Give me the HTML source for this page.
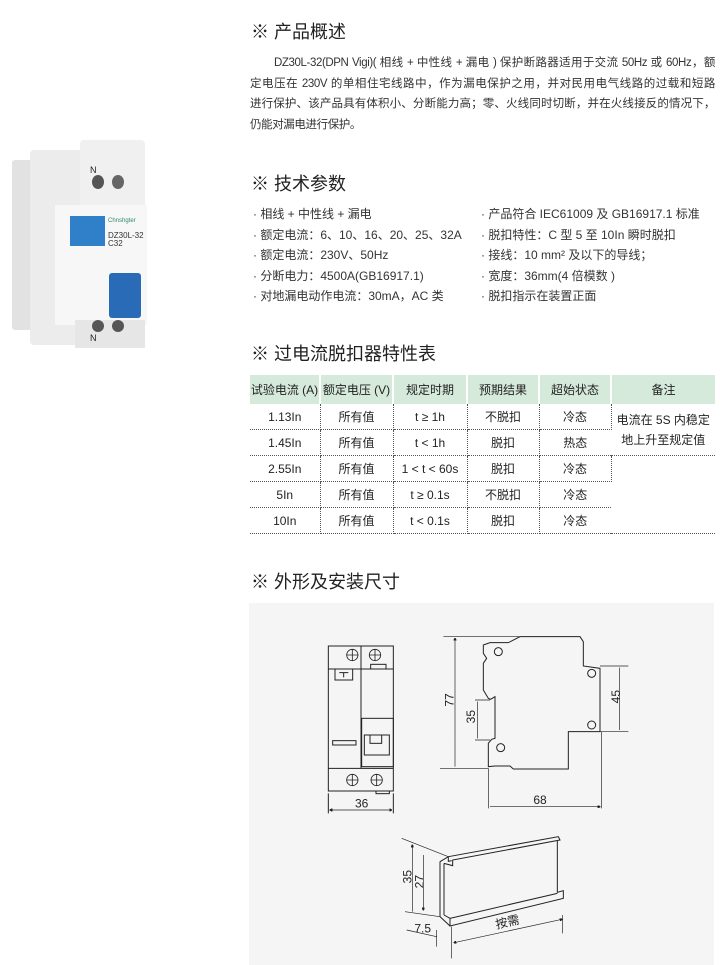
<!DOCTYPE html>
<html><head><meta charset="utf-8"><style>
body{margin:0;width:720px;height:965px;background:#fff;position:relative;overflow:hidden;font-family:"Liberation Sans","Noto Sans CJK SC",sans-serif;color:#333}
.a{position:absolute;white-space:nowrap}
.h{font-size:18px;color:#222;left:251px}
.l{font-size:11.5px;letter-spacing:-0.4px;left:250px;width:465px;text-align:justify;text-align-last:justify;line-height:16px}
.b{font-size:12px}
table{position:absolute;left:250px;top:375px;width:465px;border-collapse:collapse;font-size:12px;color:#222}
td,th{text-align:center;padding:0;border-bottom:1px dotted #555;border-right:1px dotted #555}
th{background:#d6eadb;font-weight:normal;height:29px;border:none;border-right:2px solid #fff}
td{height:25px}
td:last-child,th:last-child{border-right:none}
</style></head><body>
<div class="a h" style="top:18px">※ 产品概述</div>
<div class="a l" style="top:55px;left:274px;width:441px">DZ30L-32(DPN Vigi)( 相线 + 中性线 + 漏电 ) 保护断路器适用于交流 50Hz 或 60Hz，额</div>
<div class="a l" style="top:76px">定电压在 230V 的单相住宅线路中，作为漏电保护之用，并对民用电气线路的过载和短路</div>
<div class="a l" style="top:96px">进行保护、该产品具有体积小、分断能力高；零、火线同时切断，并在火线接反的情况下，</div>
<div class="a l" style="top:117px;text-align-last:left;width:auto">仍能对漏电进行保护。</div>
<div class="a h" style="top:170px">※ 技术参数</div>
<div class="a b" style="left:253px;top:204px;line-height:20.6px">· 相线 + 中性线 + 漏电<br>· 额定电流：6、10、16、20、25、32A<br>· 额定电流：230V、50Hz<br>· 分断电力：4500A(GB16917.1)<br>· 对地漏电动作电流：30mA，AC 类</div>
<div class="a b" style="left:481px;top:204px;line-height:20.6px">· 产品符合 IEC61009 及 GB16917.1 标准<br>· 脱扣特性：C 型 5 至 10In 瞬时脱扣<br>· 接线：10 mm² 及以下的导线；<br>· 宽度：36mm(4 倍模数 )<br>· 脱扣指示在装置正面</div>
<div class="a h" style="top:340px">※ 过电流脱扣器特性表</div>
<table>
<tr><th style="width:69px">试验电流 (A)</th><th style="width:71px">额定电压 (V)</th><th style="width:72px">规定时期</th><th style="width:70px">预期结果</th><th style="width:70px">超始状态</th><th>备注</th></tr>
<tr><td>1.13In</td><td>所有值</td><td>t ≥ 1h</td><td>不脱扣</td><td>冷态</td><td rowspan="2" style="line-height:20px">电流在 5S 内稳定<br>地上升至规定值</td></tr>
<tr><td>1.45In</td><td>所有值</td><td>t &lt; 1h</td><td>脱扣</td><td>热态</td></tr>
<tr><td>2.55In</td><td>所有值</td><td>1 &lt; t &lt; 60s</td><td>脱扣</td><td>冷态</td><td rowspan="3"></td></tr>
<tr><td>5In</td><td>所有值</td><td>t ≥ 0.1s</td><td>不脱扣</td><td>冷态</td></tr>
<tr><td>10In</td><td>所有值</td><td>t &lt; 0.1s</td><td>脱扣</td><td>冷态</td></tr>
</table>
<div class="a h" style="top:568px">※ 外形及安装尺寸</div>
<div class="a" style="left:249px;top:603px;width:465px;height:362px;background:#f4f5f4"></div>
<!-- product photo -->
<div class="a" style="left:12px;top:160px;width:30px;height:170px;background:#e2e2e2;border-radius:3px"></div>
<div class="a" style="left:30px;top:150px;width:60px;height:195px;background:#ececec;border-radius:4px"></div>
<div class="a" style="left:80px;top:140px;width:65px;height:70px;background:#f0f0f0;border-radius:4px"></div>
<div class="a" style="left:55px;top:205px;width:92px;height:120px;background:#f7f7f7"></div>
<div class="a" style="left:75px;top:320px;width:70px;height:28px;background:#e6e6e6"></div>
<div class="a" style="left:92px;top:175px;width:12px;height:14px;background:#555;border-radius:50%"></div>
<div class="a" style="left:112px;top:175px;width:12px;height:14px;background:#666;border-radius:50%"></div>
<div class="a" style="left:90px;top:165px;font-size:9px;color:#222">N</div>
<div class="a" style="left:70px;top:216px;width:35px;height:30px;background:#2f7fc9"></div>
<div class="a" style="left:109px;top:273px;width:32px;height:45px;background:#2a6bb8;border-radius:3px"></div>
<div class="a" style="left:108px;top:218px;font-size:6px;color:#2a8a6a">Chnshgter</div>
<div class="a" style="left:108px;top:232px;font-size:8px;color:#333;line-height:8px">DZ30L-32<br>C32</div>
<div class="a" style="left:92px;top:320px;width:12px;height:12px;background:#555;border-radius:50%"></div>
<div class="a" style="left:112px;top:320px;width:12px;height:12px;background:#555;border-radius:50%"></div>
<div class="a" style="left:90px;top:333px;font-size:9px;color:#222">N</div>
<svg class="a" style="left:250px;top:600px" width="470" height="365" viewBox="0 0 1410 1095" fill="none" stroke="#222" stroke-width="3" font-family="Liberation Sans" font-size="36">
<defs><marker id="m" markerWidth="8" markerHeight="8" refX="7" refY="4" orient="auto-start-reverse" markerUnits="userSpaceOnUse"><path d="M0,0L8,4L0,8z" fill="#222"/></marker></defs>
<rect x="235" y="138" width="195" height="435"/>
<path d="M333 138V505M235 207H430M235 505H430"/>
<g stroke-width="2.5"><circle cx="307" cy="165" r="17"/><circle cx="375" cy="165" r="17"/><circle cx="307" cy="540" r="17"/><circle cx="380" cy="540" r="17"/>
<path d="M290 165H324M307 148V182M358 165H392M375 148V182M290 540H324M307 523V557M363 540H397M380 523V557"/></g>
<rect x="255" y="207" width="53" height="33"/><path d="M268 218H295M281 218V232"/>
<rect x="362" y="193" width="46" height="14"/>
<rect x="335" y="355" width="95" height="145"/><rect x="343" y="405" width="75" height="60"/><rect x="360" y="405" width="35" height="25"/>
<rect x="248" y="422" width="70" height="13"/><rect x="378" y="573" width="40" height="8"/>
<path d="M235 580V640M430 580V640"/><path d="M240 630H425" stroke-width="2" marker-start="url(#m)" marker-end="url(#m)"/>
<path d="M810 110H990L1000 125V198L1050 205V395H955V507H790L780 498H735L715 500V430L725 418L735 415V290L722 298L715 295L700 270V190L710 175L700 160V135L720 128H775Z"/>
<circle cx="745" cy="155" r="12"/><circle cx="1025" cy="220" r="12"/><circle cx="1025" cy="375" r="12"/><circle cx="752" cy="443" r="12"/>
<g stroke-width="2"><path d="M580 110H810M570 505H715M675 300H720M675 420H720M1050 198H1135M1050 395H1135M715 505V625M1055 395V625"/>
<path d="M615 115V500M683 305V415M1108 203V390M720 620H1050" marker-start="url(#m)" marker-end="url(#m)"/></g>
<g fill="#222" stroke="none"><text x="335" y="622" text-anchor="middle">36</text><text x="870" y="612" text-anchor="middle">68</text>
<text transform="translate(610,300) rotate(-90)" text-anchor="middle">77</text><text transform="translate(675,350) rotate(-90)" text-anchor="middle">35</text><text transform="translate(1110,290) rotate(-90)" text-anchor="middle">45</text>
<text transform="translate(485,830) rotate(-90)" text-anchor="middle">35</text><text transform="translate(520,845) rotate(-90)" text-anchor="middle">27</text>
<text x="518" y="998" text-anchor="middle">7.5</text><text transform="translate(775,978) rotate(-13)" text-anchor="middle">按需</text></g>
<path d="M570 785V950M582 790V945M570 785L595 770L925 710L930 720L608 780V797L582 790M595 770V784L605 782M582 945L600 955V978L940 895V872L922 877V720M600 955L922 880M570 950L600 978"/>
<g stroke-width="2"><path d="M455 715L595 770M465 935L570 950M470 990L560 1010M560 990V1040M605 980V1075M938 945V1000" />
<path d="M487 735V935M520 765V930" marker-start="url(#m)" marker-end="url(#m)"/><path d="M612 1028L936 958" marker-start="url(#m)" marker-end="url(#m)"/></g>
</svg>
</body></html>
